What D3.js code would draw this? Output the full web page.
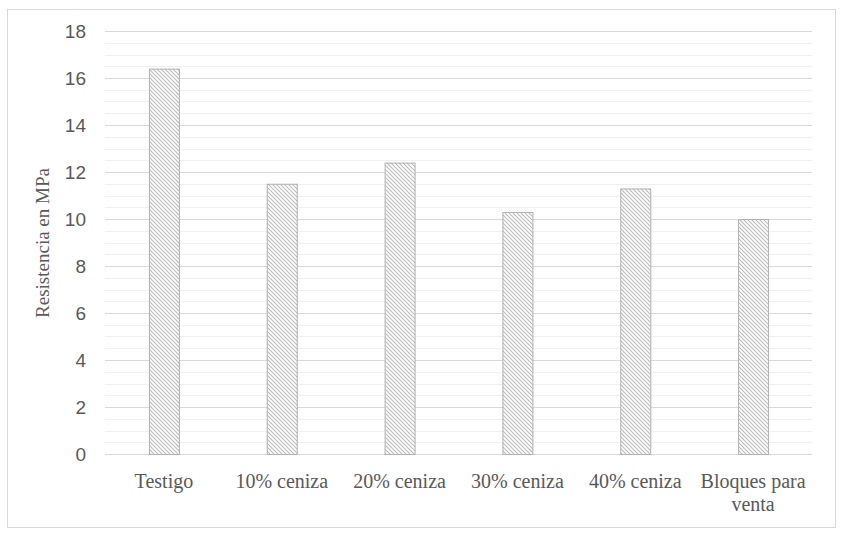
<!DOCTYPE html>
<html><head><meta charset="utf-8">
<script src="https://cdn.jsdelivr.net/npm/d3@7"></script>
<style>body{margin:0;background:#fff}</style></head>
<body><svg id="c" width="843" height="537"></svg>
<script>
const categories = ["Testigo", "10% ceniza", "20% ceniza", "30% ceniza", "40% ceniza", "Bloques para venta"];
const values = [16.4, 11.5, 12.4, 10.3, 11.3, 10.0];
const majorTicks = [0, 2, 4, 6, 8, 10, 12, 14, 16, 18];

const svg = d3.select("#c");
svg.append("rect").attr("x", 7.5).attr("y", 9.5).attr("width", 828).attr("height", 518)
    .attr("fill", "#fff").attr("stroke", "#d9d9d9");

const defs = svg.append("defs");
const pat = defs.append("pattern").attr("id", "hatch").attr("patternUnits", "userSpaceOnUse")
    .attr("width", 4).attr("height", 4);
pat.append("rect").attr("width", 4).attr("height", 4).attr("fill", "#fff");
pat.append("path").attr("d", "M-1,-1 L5,5 M-1,3 L1,5 M3,-1 L5,1")
    .attr("stroke", "#bdbdbd").attr("stroke-width", 1.1);

const x = d3.scaleBand().domain(categories).range([105, 812]);
const y = d3.scaleLinear().domain([0, 18]).range([454, 31]);

// minor gridlines
svg.append("g").selectAll("line").data(d3.range(0, 18.01, 0.5).filter(v => v % 2 !== 0))
    .join("line").attr("x1", 105).attr("x2", 812)
    .attr("y1", d => Math.round(y(d)) + 0.5).attr("y2", d => Math.round(y(d)) + 0.5)
    .attr("stroke", "#f0f0f0");
svg.append("g").selectAll("line").data(majorTicks)
    .join("line").attr("x1", 105).attr("x2", 812)
    .attr("y1", d => Math.round(y(d)) + 0.5).attr("y2", d => Math.round(y(d)) + 0.5)
    .attr("stroke", "#d9d9d9");

svg.append("g").selectAll("text").data(majorTicks).join("text")
    .attr("x", 86).attr("y", d => y(d) + 7).attr("text-anchor", "end")
    .attr("font-family", "Liberation Sans, Arial").attr("font-size", 19).attr("fill", "#595959")
    .text(d => d);

svg.append("g").selectAll("rect").data(values).join("rect")
    .attr("x", (d, i) => x(categories[i]) + x.bandwidth() / 2 - 15 + 0.5)
    .attr("y", d => y(d) + 0.5).attr("width", 30).attr("height", d => y(0) - y(d))
    .attr("fill", "url(#hatch)").attr("stroke", "#b0b0b0");

const lbl = svg.append("g").selectAll("text").data(categories).join("text")
    .attr("text-anchor", "middle").attr("font-family", "Liberation Serif, Times New Roman")
    .attr("font-size", 20).attr("fill", "#595959");
lbl.each(function(d) {
    const t = d3.select(this);
    const cx = x(d) + x.bandwidth() / 2;
    const lines = d === "Bloques para venta" ? ["Bloques para", "venta"] : [d];
    lines.forEach((s, j) => t.append("tspan").attr("x", cx).attr("y", 488 + j * 23).text(s));
});

svg.append("text").attr("transform", "translate(49,243) rotate(-90)")
    .attr("text-anchor", "middle").attr("font-family", "Liberation Serif, Times New Roman")
    .attr("font-size", 19).attr("fill", "#595959").text("Resistencia en MPa");
</script></body></html>
